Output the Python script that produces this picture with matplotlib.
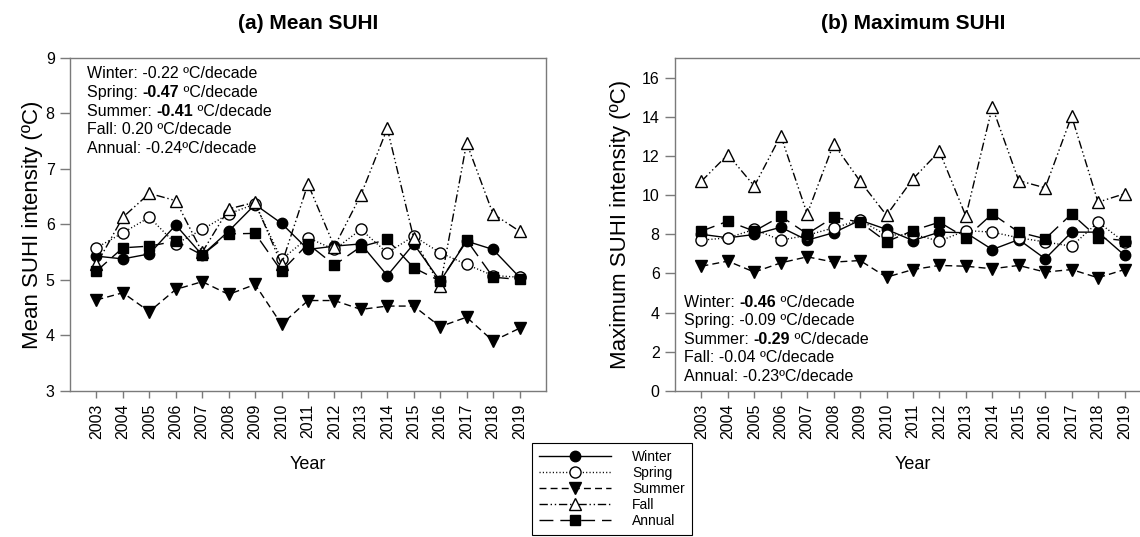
import matplotlib
matplotlib.use("Agg")
import matplotlib.pyplot as plt

plt.rcParams['font.family'] = ['Liberation Sans', 'DejaVu Sans']

years = list(range(2003, 2020))
series_names = ["Winter", "Spring", "Summer", "Fall", "Annual"]

# mean SUHI intensity (deg C)
mean_winter = [5.43, 5.38, 5.47, 5.99, 5.45, 5.88, 6.36, 6.02, 5.55, 5.61, 5.65, 5.08, 5.65, 4.98, 5.70, 5.55, 5.05]
mean_spring = [5.58, 5.85, 6.13, 5.65, 5.91, 6.19, 6.37, 5.37, 5.76, 5.55, 5.91, 5.49, 5.79, 5.49, 5.28, 5.08, 5.05]
mean_summer = [4.64, 4.77, 4.43, 4.83, 4.97, 4.74, 4.92, 4.20, 4.63, 4.63, 4.47, 4.53, 4.53, 4.16, 4.33, 3.90, 4.13]
mean_fall = [5.28, 6.13, 6.56, 6.43, 5.50, 6.28, 6.40, 5.28, 6.73, 5.60, 6.53, 7.73, 5.75, 4.89, 7.47, 6.19, 5.88]
mean_annual = [5.16, 5.58, 5.61, 5.70, 5.45, 5.83, 5.84, 5.16, 5.65, 5.27, 5.60, 5.73, 5.22, 4.98, 5.72, 5.05, 5.01]

# maximum SUHI intensity (deg C)
max_winter = [8.00, 7.82, 7.99, 8.36, 7.70, 8.08, 8.72, 8.25, 7.68, 8.11, 8.08, 7.22, 7.73, 6.75, 8.11, 8.11, 6.93]
max_spring = [7.70, 7.82, 8.25, 7.70, 7.95, 8.33, 8.72, 7.95, 8.00, 7.65, 8.19, 8.11, 7.82, 7.61, 7.39, 8.62, 7.60]
max_summer = [6.37, 6.63, 6.07, 6.54, 6.85, 6.58, 6.66, 5.81, 6.20, 6.41, 6.37, 6.24, 6.41, 6.07, 6.20, 5.78, 6.20]
max_fall = [10.71, 12.07, 10.46, 13.04, 9.04, 12.62, 10.71, 8.97, 10.83, 12.24, 8.93, 14.50, 10.74, 10.37, 14.03, 9.64, 10.07]
max_annual = [8.16, 8.67, 8.16, 8.92, 8.02, 8.87, 8.62, 7.62, 8.19, 8.62, 7.82, 9.04, 8.11, 7.77, 9.04, 7.82, 7.68]

# trends in degC/decade, bold = significant
mean_trends = ["-0.22", "-0.47", "-0.41", "0.20", "-0.24"]
mean_bold = [False, True, True, False, False]
max_trends = ["-0.46", "-0.09", "-0.29", "-0.04", "-0.23"]
max_bold = [True, False, True, False, False]

styles = {
    "Winter": dict(marker='o', mfc='black', ms=7.5, ls='-'),
    "Spring": dict(marker='o', mfc='white', ms=8, ls=(0, (0.8, 1.6))),
    "Summer": dict(marker='v', mfc='black', ms=8, ls=(0, (5, 3))),
    "Fall": dict(marker='^', mfc='white', ms=8.5, ls=(0, (6, 2, 1, 2, 1, 2))),
    "Annual": dict(marker='s', mfc='black', ms=7, ls=(0, (10, 5))),
}

fig = plt.figure(figsize=(11.4, 5.37), dpi=100)
ax1 = fig.add_axes([0.0614, 0.2719, 0.4175, 0.6201])
ax2 = fig.add_axes([0.5921, 0.2719, 0.4175, 0.6201])

spine_gray = '#7a7a7a'


def draw_panel(ax, data):
    lines = []
    for name, vals in zip(series_names, data):
        st = styles[name]
        ln, = ax.plot(years, vals, color='black', lw=1.0, linestyle=st['ls'],
                      marker=st['marker'], markersize=st['ms'],
                      markerfacecolor=st['mfc'], markeredgecolor='black',
                      markeredgewidth=1.0, label=name)
        lines.append(ln)
    ax.set_xlim(2002, 2020)
    ax.set_xticks(years)
    ax.set_xticklabels([str(y) for y in years], rotation=90)
    ax.tick_params(axis='x', direction='out', length=5, width=1, color=spine_gray,
                   labelsize=11.5, pad=4, top=False)
    ax.tick_params(axis='y', direction='out', length=7, width=1, color=spine_gray,
                   labelsize=11.5, pad=4, right=False)
    for sp in ax.spines.values():
        sp.set_color(spine_gray)
        sp.set_linewidth(1.0)
    ax.set_xlabel("Year", fontsize=13)
    ax.xaxis.set_label_coords(0.5, -0.222)
    ax.xaxis.label.set_verticalalignment('center')
    return lines


def trend_text(ax, x, y0, dy, trends, bold):
    for i, (name, val, b) in enumerate(zip(series_names, trends, bold)):
        unit = "ºC/decade" if name == "Annual" else " ºC/decade"
        y = y0 - i * dy
        if not b:
            ax.text(x, y, f"{name}: {val}{unit}", transform=ax.transAxes,
                    fontsize=11.5, va='center', ha='left')
            continue
        t = ax.text(x, y, f"{name}: ", transform=ax.transAxes,
                    fontsize=11.5, va='center', ha='left')
        t = ax.annotate(val, xy=(1, 0), xycoords=t, fontsize=11.5,
                        fontweight='bold', va='bottom', ha='left')
        ax.annotate(unit, xy=(1, 0), xycoords=t, fontsize=11.5,
                    va='bottom', ha='left')


handles = draw_panel(ax1, [mean_winter, mean_spring, mean_summer, mean_fall, mean_annual])
ax1.set_ylim(3, 9)
ax1.set_yticks(range(3, 10))
ax1.set_ylabel("Mean SUHI intensity (ºC)", fontsize=16)
ax1.yaxis.set_label_coords(-0.078, 0.5)
ax1.yaxis.label.set_verticalalignment('center')
ax1.set_title("(a) Mean SUHI", fontsize=15, fontweight='bold', pad=21)
trend_text(ax1, 0.0357, 0.952, 0.0556, mean_trends, mean_bold)

draw_panel(ax2, [max_winter, max_spring, max_summer, max_fall, max_annual])
ax2.set_ylim(0, 17)
ax2.set_yticks(range(0, 17, 2))
ax2.set_ylabel("Maximum SUHI intensity (ºC)", fontsize=16)
ax2.yaxis.set_label_coords(-0.1155, 0.5)
ax2.yaxis.label.set_verticalalignment('center')
ax2.set_title("(b) Maximum SUHI", fontsize=15, fontweight='bold', pad=21)
trend_text(ax2, 0.019, 0.267, 0.0556, max_trends, max_bold)

leg = fig.legend(handles=handles, loc='upper left',
                 bbox_to_anchor=(532 / 1140, 1 - 443 / 537), fontsize=10,
                 frameon=True, fancybox=False, edgecolor='black', framealpha=1,
                 handlelength=5.2, handletextpad=1.5, labelspacing=0.15,
                 borderpad=0.5, borderaxespad=0)
leg.get_frame().set_linewidth(0.8)

fig.savefig("out.png", dpi=100)
